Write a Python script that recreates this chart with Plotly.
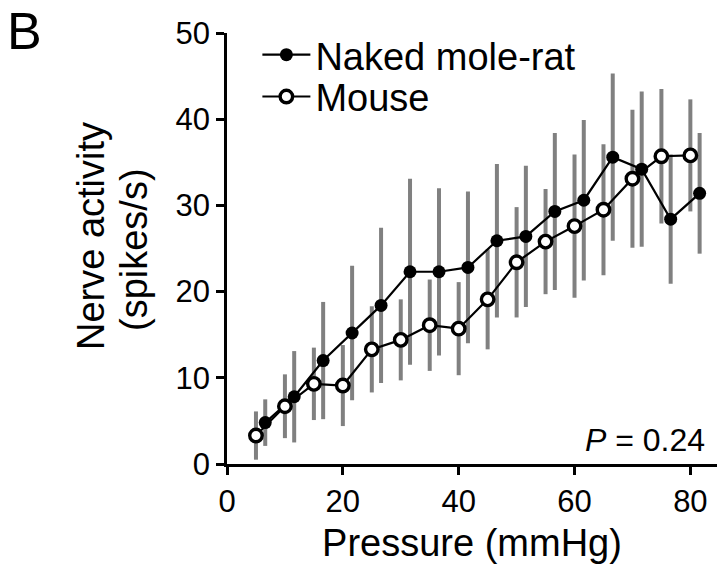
import plotly.graph_objects as go

# ---- data ----
pressure_nmr = [6.6, 11.6, 16.6, 21.6, 26.6, 31.6, 36.6, 41.6, 46.6, 51.6, 56.6, 61.6, 66.6, 71.6, 76.6, 81.6]
activity_nmr = [4.8, 7.8, 12.0, 15.2, 18.4, 22.3, 22.3, 22.8, 25.9, 26.4, 29.3, 30.6, 35.6, 34.2, 28.4, 31.4]
err_nmr = [2.7, 5.3, 6.8, 7.8, 9.0, 10.8, 9.7, 8.8, 8.9, 8.2, 9.1, 9.3, 9.7, 9.0, 7.5, 7.0]

pressure_mouse = [5, 10, 15, 20, 25, 30, 35, 40, 45, 50, 55, 60, 65, 70, 75, 80]
activity_mouse = [3.3, 6.7, 9.3, 9.1, 13.3, 14.4, 16.1, 15.7, 19.1, 23.4, 25.8, 27.6, 29.5, 33.1, 35.7, 35.8]
err_mouse = [2.8, 3.7, 4.2, 4.7, 5.0, 4.7, 5.3, 5.4, 5.8, 6.4, 6.1, 8.3, 7.6, 8.0, 7.8, 6.5]

x_ticks = [0, 20, 40, 60, 80]
y_ticks = [0, 10, 20, 30, 40, 50]

FONT = "Liberation Sans, Arial, Helvetica, sans-serif"
ERR_COLOR = "#808080"

fig = go.Figure()

# error bars first (beneath lines and markers)
for xs, ys, es in [(pressure_nmr, activity_nmr, err_nmr), (pressure_mouse, activity_mouse, err_mouse)]:
    fig.add_trace(go.Scatter(
        x=xs, y=ys, mode="markers",
        marker=dict(size=1, opacity=0),
        error_y=dict(type="data", array=es, visible=True, color=ERR_COLOR, thickness=4, width=0),
        showlegend=False, hoverinfo="skip",
    ))

fig.add_trace(go.Scatter(
    x=pressure_nmr, y=activity_nmr, mode="lines+markers", name="Naked mole-rat",
    line=dict(color="black", width=2.2), legend="legend",
    marker=dict(symbol="circle", size=13, color="black", line=dict(color="black", width=0)),
))
fig.add_trace(go.Scatter(
    x=pressure_mouse, y=activity_mouse, mode="lines+markers", name="Mouse",
    line=dict(color="black", width=2.2), legend="legend2",
    marker=dict(symbol="circle", size=12.5, color="white", line=dict(color="black", width=3.4)),
))

legend_common = dict(
    xanchor="left", yanchor="top",
    bgcolor="rgba(0,0,0,0)", borderwidth=0,
    font=dict(size=38, family=FONT, color="black"), itemwidth=48,
)

fig.update_layout(
    width=717, height=567,
    margin=dict(l=227, r=0, t=33, b=103),
    paper_bgcolor="white", plot_bgcolor="white",
    font=dict(family=FONT, color="black", size=31),
    showlegend=True,
    legend=dict(x=0.062, y=1.022, **legend_common),
    legend2=dict(x=0.062, y=0.925, **legend_common),
    xaxis=dict(
        range=[0, 84.6], tickvals=x_ticks, ticktext=[str(v) for v in x_ticks],
        showgrid=False, zeroline=False,
        showline=True, linecolor="black", linewidth=2.5,
        ticks="outside", ticklen=8, tickwidth=2.5, tickcolor="black",
        tickfont=dict(size=31, family=FONT),
        title=dict(text="Pressure (mmHg)", font=dict(size=38, family=FONT), standoff=12),
    ),
    yaxis=dict(
        range=[0, 50], tickvals=y_ticks, ticktext=[str(v) for v in y_ticks],
        showgrid=False, zeroline=False,
        showline=True, linecolor="black", linewidth=2.5,
        ticks="outside", ticklen=8, tickwidth=2.5, tickcolor="black",
        tickfont=dict(size=31, family=FONT),
    ),
    annotations=[
        dict(text="Nerve activity", x=0, y=0.529, xref="paper", yref="paper",
             xanchor="center", yanchor="middle", textangle=-90, xshift=-136,
             showarrow=False, font=dict(size=38, family=FONT, color="black")),
        dict(text="(spikes/s)", x=0, y=0.4965, xref="paper", yref="paper",
             xanchor="center", yanchor="middle", textangle=-90, xshift=-93,
             showarrow=False, font=dict(size=38, family=FONT, color="black")),
        dict(text="<i>P</i> = 0.24", x=1, y=0, xref="paper", yref="paper",
             xanchor="right", yanchor="bottom", xshift=-10, yshift=4, showarrow=False,
             font=dict(size=32, family=FONT, color="black")),
        dict(text="B", x=0, y=1, xref="paper", yref="paper",
             xanchor="left", yanchor="top", xshift=-222, yshift=33, showarrow=False,
             font=dict(size=52, family=FONT, color="black")),
    ],
)

fig.write_html("out.html", config={"displayModeBar": False})

# remove the default page margin so the figure sits at the window's origin
with open("out.html", "r", encoding="utf-8") as f:
    html = f.read()
html = html.replace("<body>", '<body style="margin:0;">', 1)
with open("out.html", "w", encoding="utf-8") as f:
    f.write(html)
